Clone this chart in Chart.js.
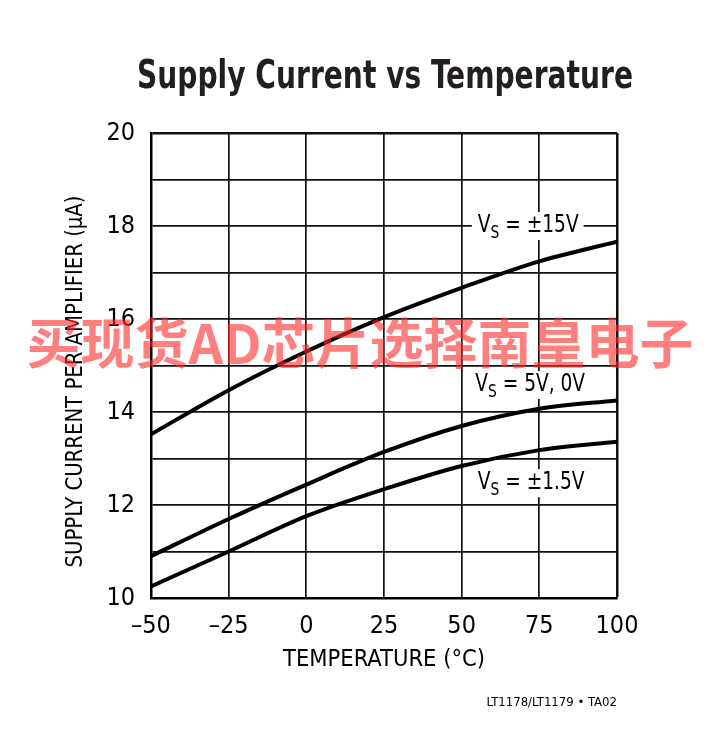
<!DOCTYPE html>
<html>
<head>
<meta charset="utf-8">
<title>Supply Current vs Temperature</title>
<script src="https://cdn.jsdelivr.net/npm/chart.js@4.4.1/dist/chart.umd.min.js"></script>
<style>
  html, body { margin: 0; padding: 0; background: #fff; }
  #wrap { width: 722px; height: 732px; position: relative; }
</style>
</head>
<body>
<div id="wrap"><canvas id="chart" width="722" height="732"></canvas></div>
<script>
// temperature points (°C) and supply current per amplifier (µA)
const temps = [-50, -25, 0, 25, 50, 75, 100];
const vs15 = [13.52, 14.47, 15.3, 16.04, 16.67, 17.24, 17.66];
const vs5 = [10.9, 11.7, 12.44, 13.14, 13.7, 14.07, 14.25];
const vs1p5 = [10.25, 11.0, 11.76, 12.34, 12.84, 13.18, 13.36];

const xTicks = [-50, -25, 0, 25, 50, 75, 100];
const yLabels = [10, 12, 14, 16, 18, 20];

// curve labels: [main text, subscript, rest, x, y]
const curveLabels = [
    ['V', 'S', ' = ±15V', 55.2, 18],
    ['V', 'S', ' = 5V, 0V', 54.4, 14.58],
    ['V', 'S', ' = ±1.5V', 55.2, 12.47]
];

const narrow = '"DejaVu Sans Condensed", "Liberation Sans Narrow", sans-serif';

function pts(ys) {
    return temps.map((t, i) => ({ x: t, y: ys[i] }));
}

function lineSet(ys) {
    return {
        data: pts(ys),
        showLine: true,
        borderColor: '#000',
        borderWidth: 4,
        pointRadius: 0,
        cubicInterpolationMode: 'monotone',
        fill: false
    };
}

// draws text squeezed horizontally by sx, starting at x (left aligned)
function squeezed(ctx, text, x, y, sx) {
    ctx.save();
    ctx.translate(x, y);
    ctx.scale(sx, 1);
    ctx.fillText(text, 0, 0);
    ctx.restore();
}

const extras = {
    id: 'extras',
    afterDatasetsDraw(chart) {
        const ctx = chart.ctx;
        const xs = chart.scales.x, ys = chart.scales.y;
        const sx = 0.86;
        ctx.save();
        ctx.textBaseline = 'middle';
        ctx.textAlign = 'left';
        curveLabels.forEach(l => {
            const px = xs.getPixelForValue(l[3]);
            const py = ys.getPixelForValue(l[4]);
            ctx.font = '24px ' + narrow;
            const w1 = ctx.measureText(l[0]).width * sx;
            const w3 = ctx.measureText(l[2]).width * sx;
            ctx.font = '18px ' + narrow;
            const w2 = ctx.measureText(l[1]).width * sx;
            ctx.fillStyle = '#fff';
            ctx.fillRect(px - 6, py - 14, w1 + w2 + w3 + 11, 28);
            ctx.fillStyle = '#000';
            ctx.font = '24px ' + narrow;
            squeezed(ctx, l[0], px, py, sx);
            ctx.font = '18px ' + narrow;
            squeezed(ctx, l[1], px + w1, py + 7, sx);
            ctx.font = '24px ' + narrow;
            squeezed(ctx, l[2], px + w1 + w2, py, sx);
        });
        ctx.restore();
    },
    afterDraw(chart) {
        const ctx = chart.ctx;
        const area = chart.chartArea;
        ctx.save();
        ctx.textBaseline = 'middle';
        // title
        ctx.fillStyle = '#231f20';
        ctx.textAlign = 'center';
        ctx.font = 'bold 39px ' + narrow;
        const tw = ctx.measureText('Supply Current vs Temperature').width;
        ctx.save();
        ctx.translate(385, 78);
        ctx.scale(496 / tw, 1);
        ctx.fillText('Supply Current vs Temperature', 0, 0);
        ctx.restore();
        // y axis title
        ctx.fillStyle = '#000';
        ctx.font = '23px ' + narrow;
        const yt = 'SUPPLY CURRENT PER AMPLIFIER (µA)';
        const yw = ctx.measureText(yt).width;
        ctx.save();
        ctx.translate(76, (area.top + area.bottom) / 2 + 16);
        ctx.rotate(-Math.PI / 2);
        ctx.scale(372 / yw, 1);
        ctx.fillText(yt, 0, 0);
        ctx.restore();
        // footer
        ctx.textAlign = 'right';
        ctx.font = '13px ' + narrow;
        ctx.fillText('LT1178/LT1179 • TA02', area.right, 703);
        // watermark
        ctx.fillStyle = 'rgba(255, 40, 40, 0.6)';
        ctx.textAlign = 'center';
        ctx.font = 'bold 54px "Noto Sans CJK SC", sans-serif';
        ctx.fillText('买现货AD芯片选择南皇电子', 360, 343);
        ctx.restore();
    }
};

new Chart(document.getElementById('chart'), {
    type: 'scatter',
    data: {
        datasets: [lineSet(vs15), lineSet(vs5), lineSet(vs1p5)]
    },
    options: {
        responsive: false,
        animation: false,
        layout: { padding: { left: 61, right: 105, top: 133, bottom: 58 } },
        plugins: {
            legend: { display: false },
            tooltip: { enabled: false }
        },
        scales: {
            x: {
                type: 'linear',
                min: -50,
                max: 100,
                afterBuildTicks: s => { s.ticks = xTicks.map(v => ({ value: v })); },
                afterFit: s => { s.height = 76; },
                ticks: {
                    color: '#000',
                    padding: 13,
                    maxRotation: 0,
                    font: { family: narrow, size: 25 },
                    callback: v => v < 0 ? '–' + Math.abs(v) : String(v)
                },
                grid: {
                    color: '#111',
                    drawTicks: false,
                    lineWidth: c => c.tick && c.tick.value === 100 ? 2.5 : 1.7
                },
                border: { display: true, color: '#000', width: 2.5 },
                title: {
                    display: true,
                    text: 'TEMPERATURE (°C)',
                    color: '#000',
                    padding: 0,
                    font: { family: narrow, size: 23.5 }
                }
            },
            y: {
                type: 'linear',
                min: 10,
                max: 20,
                afterFit: s => { s.width = 90; },
                ticks: {
                    stepSize: 1,
                    color: '#000',
                    padding: 16,
                    font: { family: narrow, size: 25 },
                    callback: v => yLabels.includes(v) ? String(v) : ''
                },
                grid: {
                    color: '#111',
                    drawTicks: false,
                    lineWidth: c => c.tick && c.tick.value === 20 ? 2.5 : 1.7
                },
                border: { display: true, color: '#000', width: 2.5 }
            }
        }
    },
    plugins: [extras]
});
</script>
</body>
</html>
